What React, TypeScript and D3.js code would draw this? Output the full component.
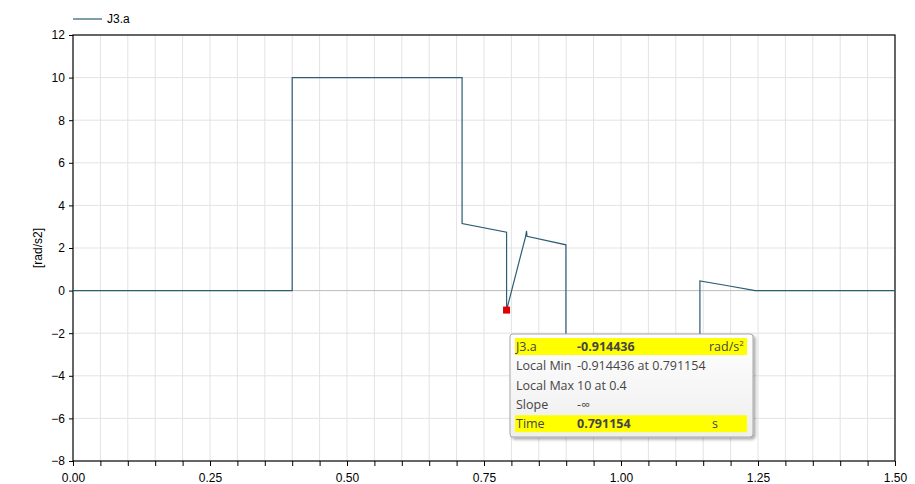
import React, { useEffect, useRef } from 'react';
import * as d3 from 'd3';

// signal J3.a sampled at its break points
const times = [0, 0.4, 0.4, 0.71, 0.71, 0.7912, 0.7912, 0.826, 0.8276, 0.8285, 0.8995, 0.8995, 1.144, 1.144, 1.19, 1.245, 1.5];
const values = [0, 0, 10, 10, 3.15, 2.74, -0.914, 2.55, 2.8, 2.55, 2.15, -4, -4, 0.45, 0.25, 0, 0];

const xTicks = [0, 0.25, 0.5, 0.75, 1.0, 1.25, 1.5];
const yTicks = [-8, -6, -4, -2, 0, 2, 4, 6, 8, 10, 12];

const seriesName = 'J3.a';
const yLabel = '[rad/s2]';
const marker = { t: 0.791154, v: -0.914436 };

const tipRows = [
    { label: 'J3.a', value: '-0.914436', unit: 'rad/s', hi: true, bold: true },
    { label: 'Local Min', value: '-0.914436 at 0.791154', unit: '', hi: false, bold: false },
    { label: 'Local Max', value: '10 at 0.4', unit: '', hi: false, bold: false },
    { label: 'Slope', value: '-\u221E', unit: '', hi: false, bold: false },
    { label: 'Time', value: '0.791154', unit: 's', hi: true, bold: true },
];

const W = 915;
const H = 484;
const lineColor = '#2b5d74';

const App: React.FC = () => {
    const svgRef = useRef<SVGSVGElement | null>(null);

    useEffect(() => {
        const margin = { top: 35, right: 20, bottom: 23, left: 73 };
        const svg = d3.select(svgRef.current);
        svg.selectAll('*').remove();

        const x = d3.scaleLinear().domain([0, 1.5]).range([margin.left, W - margin.right]);
        const y = d3.scaleLinear().domain([-8, 12]).range([H - margin.bottom, margin.top]);

        // grid
        const grid = svg.append('g');
        grid.selectAll('line.gx')
            .data(d3.range(1, 30).map(i => i * 0.05))
            .enter().append('line')
            .attr('x1', d => x(d)).attr('x2', d => x(d))
            .attr('y1', y(12)).attr('y2', y(-8))
            .attr('stroke', '#e3e3e3').attr('stroke-width', 1);
        grid.selectAll('line.gy')
            .data(yTicks.filter(d => d !== 0 && d !== 12 && d !== -8))
            .enter().append('line')
            .attr('x1', x(0)).attr('x2', x(1.5))
            .attr('y1', d => y(d)).attr('y2', d => y(d))
            .attr('stroke', '#e3e3e3').attr('stroke-width', 1);
        grid.append('line')
            .attr('x1', x(0)).attr('x2', x(1.5))
            .attr('y1', y(0)).attr('y2', y(0))
            .attr('stroke', '#bcbcbc').attr('stroke-width', 1);

        // frame
        svg.append('rect')
            .attr('x', x(0)).attr('y', y(12))
            .attr('width', x(1.5) - x(0)).attr('height', y(-8) - y(12))
            .attr('fill', 'none').attr('stroke', '#000').attr('stroke-width', 1.2);

        // axes
        const xAxis = svg.append('g')
            .attr('transform', `translate(0,${y(-8)})`)
            .call(d3.axisBottom(x).tickValues(d3.range(0, 31).map(i => i * 0.05)).tickSize(5)
                .tickFormat(d => (xTicks.some(t => Math.abs(t - (d as number)) < 1e-6) ? d3.format('.2f')(d as number) : '')));
        xAxis.select('.domain').remove();
        xAxis.selectAll('text').attr('font-size', 12).attr('font-family', 'Liberation Sans, Arial').attr('fill', '#000').attr('dy', '1.05em');

        const yAxis = svg.append('g')
            .attr('transform', `translate(${x(0)},0)`)
            .call(d3.axisLeft(y).tickValues(yTicks).tickSize(4).tickFormat(d3.format('d')));
        yAxis.select('.domain').remove();
        yAxis.selectAll('text').attr('font-size', 12).attr('font-family', 'Liberation Sans, Arial').attr('fill', '#000').attr('dx', '-0.1em');

        svg.append('text')
            .attr('transform', `translate(42,${(y(12) + y(-8)) / 2}) rotate(-90)`)
            .attr('text-anchor', 'middle')
            .attr('font-size', 12).attr('font-family', 'Liberation Sans, Arial')
            .text(yLabel);

        // legend
        svg.append('line').attr('x1', 73).attr('x2', 102).attr('y1', 19).attr('y2', 19)
            .attr('stroke', lineColor).attr('stroke-width', 1.2);
        svg.append('text').attr('x', 107).attr('y', 23)
            .attr('font-size', 12).attr('font-family', 'Liberation Sans, Arial')
            .text(seriesName);

        // series
        const line = d3.line<number>().x((_, i) => x(times[i])).y(d => y(d));
        svg.append('path')
            .attr('d', line(values))
            .attr('fill', 'none').attr('stroke', lineColor).attr('stroke-width', 1.2);

        svg.append('rect')
            .attr('x', x(marker.t) - 3.5).attr('y', y(marker.v) - 3.5)
            .attr('width', 7).attr('height', 7).attr('fill', '#e00000');

        // tooltip
        const tip = svg.append('g').attr('transform', 'translate(510,334)');
        const defs = svg.append('defs');
        const grad = defs.append('linearGradient').attr('id', 'tipBg').attr('x1', 0).attr('y1', 0).attr('x2', 0).attr('y2', 1);
        grad.append('stop').attr('offset', '0%').attr('stop-color', '#ffffff');
        grad.append('stop').attr('offset', '100%').attr('stop-color', '#eeeeee');
        const shadow = defs.append('filter').attr('id', 'tipShadow').attr('x', '-10%').attr('y', '-10%').attr('width', '130%').attr('height', '130%');
        shadow.append('feDropShadow').attr('dx', 2).attr('dy', 2).attr('stdDeviation', 1.5).attr('flood-color', '#000').attr('flood-opacity', 0.35);

        tip.append('rect')
            .attr('width', 243).attr('height', 103).attr('rx', 3)
            .attr('fill', 'url(#tipBg)').attr('stroke', '#a8a8a8').attr('filter', 'url(#tipShadow)');
        const rowH = 19.3;
        tipRows.forEach((r, i) => {
            const ry = 4 + i * rowH;
            if (r.hi) {
                tip.append('rect').attr('x', 5).attr('y', ry).attr('width', 232).attr('height', 17).attr('fill', '#ffff00');
            }
            const base = ry + 13;
            const txt = (tx: number, s: string, bold = false) => tip.append('text')
                .attr('x', tx).attr('y', base)
                .attr('font-size', 12.5).attr('font-family', 'Open Sans, DejaVu Sans, sans-serif')
                .attr('font-weight', bold ? 'bold' : 'normal')
                .attr('fill', '#454545')
                .text(s);
            txt(6, r.label);
            txt(67, r.value, r.bold);
            if (r.unit === 'rad/s') {
                const u = txt(199, r.unit);
                u.append('tspan').attr('dy', -5).attr('font-size', 8).text('2');
            } else if (r.unit) {
                txt(202, r.unit);
            }
        });
    }, []);

    return (
        <svg ref={svgRef} width={W} height={H}
            style={{ position: 'absolute', left: 0, top: 0, background: '#fff' }} />
    );
};

export default App;
